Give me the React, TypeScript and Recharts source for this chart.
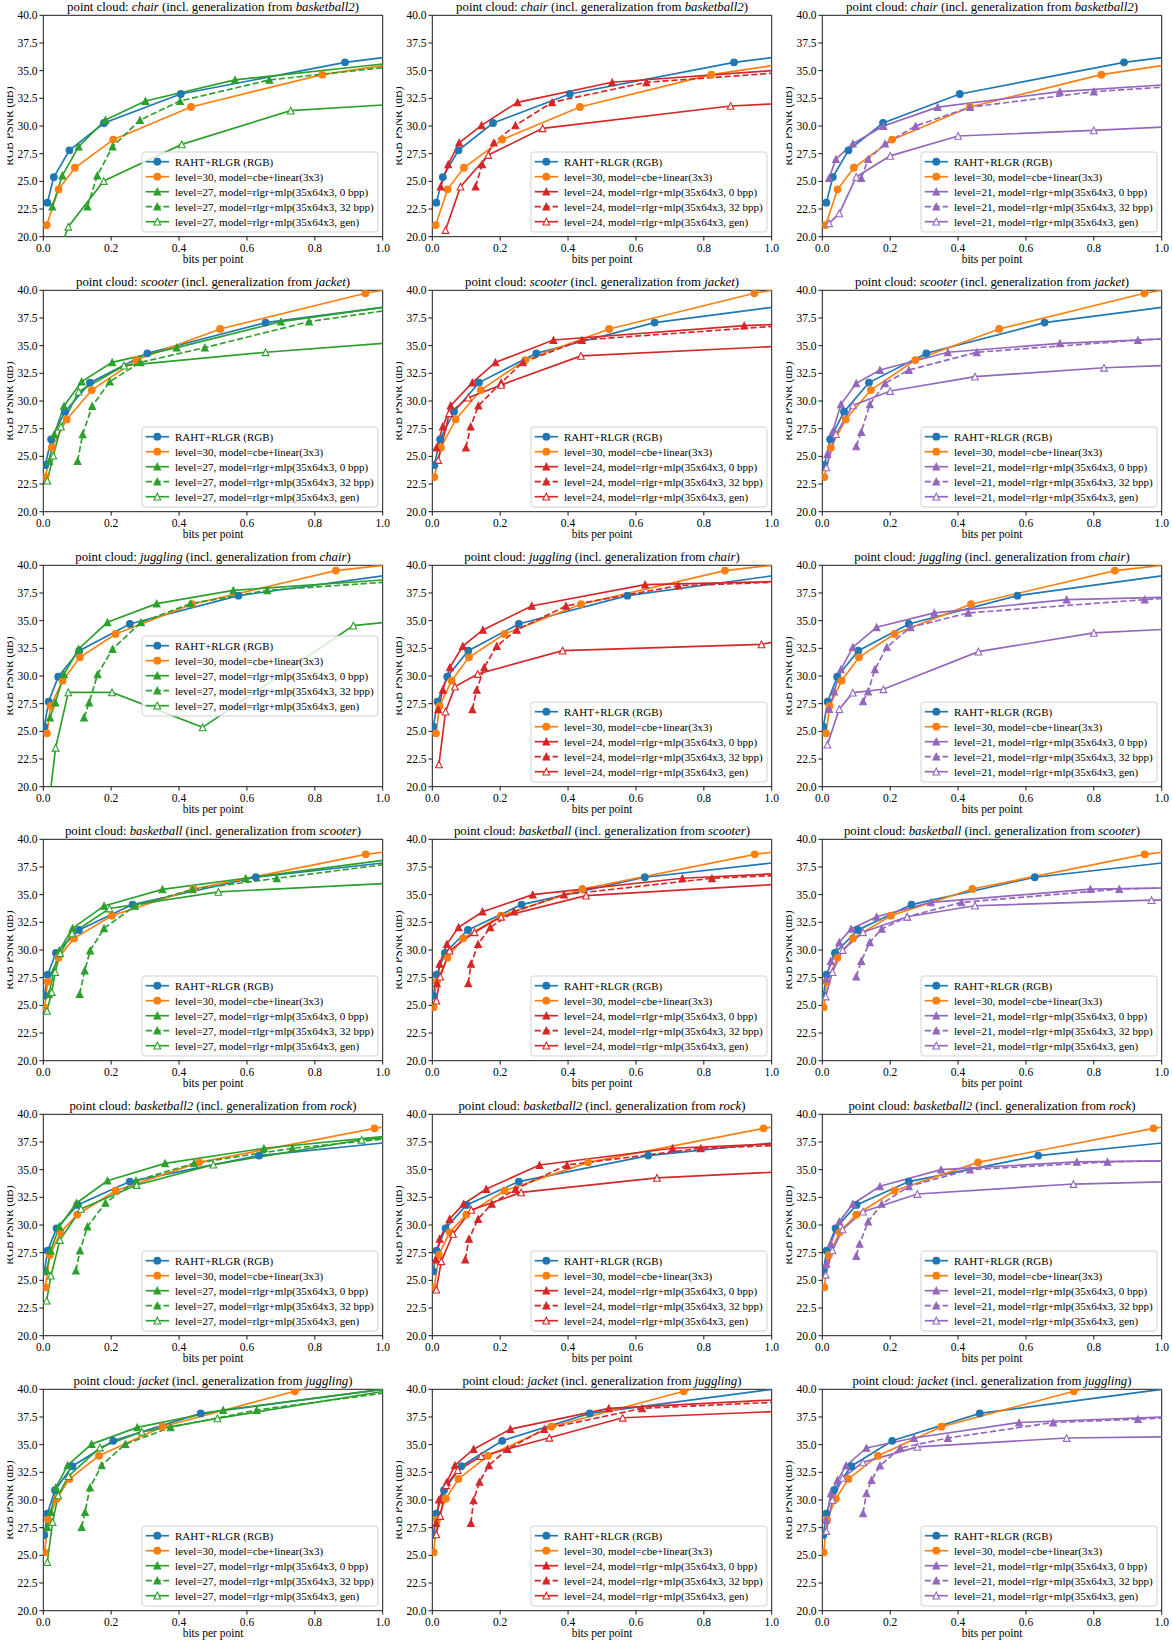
import React from 'react';
import { LineChart, Line, XAxis, YAxis, ReferenceArea } from 'recharts';

// ---------- data ([bits per point, RGB PSNR dB]) ----------
const chairRaht = [[0.012,23.07],[0.031,25.39],[0.077,27.8],[0.179,30.27],[0.405,32.89],[0.889,35.75],[1.0,36.17]];
const chairCbe = [[0.010,21.05],[0.045,24.28],[0.093,26.23],[0.206,28.77],[0.435,31.72],[0.822,34.64],[1.0,35.45]];
const chairL27_0 = [[0.0265,22.71],[0.056,25.51],[0.104,28.13],[0.183,30.54],[0.301,32.26],[0.565,34.16],[1.0,35.6]];
const chairL27_32 = [[0.13,22.71],[0.159,25.51],[0.204,28.13],[0.285,30.54],[0.403,32.26],[0.666,34.16],[1.0,35.27]];
const chairL27_gen = [[0.04,18.0],[0.0737,20.9],[0.178,25.03],[0.408,28.34],[0.729,31.39],[1.0,31.9]];
const chairL24_0 = [[0.0245,24.52],[0.047,26.54],[0.079,28.49],[0.145,30.06],[0.251,32.14],[0.53,33.95],[1.0,35.0]];
const chairL24_32 = [[0.1275,24.52],[0.147,26.54],[0.181,28.49],[0.245,30.06],[0.353,32.14],[0.631,33.95],[1.0,34.76]];
const chairL24_gen = [[0.039,20.6],[0.083,24.52],[0.165,27.38],[0.325,29.79],[0.879,31.81],[1.0,31.99]];
const chairL21_0 = [[0.02,25.3],[0.04,27.0],[0.09,28.4],[0.18,30.0],[0.34,31.7],[0.70,33.1],[1.0,33.7]];
const chairL21_32 = [[0.115,25.3],[0.135,27.0],[0.185,28.4],[0.275,30.0],[0.435,31.7],[0.80,33.1],[1.0,33.5]];
const chairL21_gen = [[0.02,21.2],[0.05,22.1],[0.1,25.4],[0.2,27.3],[0.4,29.1],[0.8,29.6],[1.0,29.9]];

const scooterRaht = [[0.006,24.22],[0.023,26.54],[0.064,29.04],[0.1375,31.66],[0.3065,34.31],[0.655,37.08],[1.0,38.46]];
const scooterCbe = [[0.006,23.13],[0.025,25.78],[0.069,28.34],[0.143,30.99],[0.274,33.7],[0.521,36.51],[0.949,39.73],[1.0,40.0]];
const scooterL27_0 = [[0.0177,24.58],[0.0324,26.99],[0.061,29.55],[0.113,31.75],[0.203,33.49],[0.393,34.82],[0.70,37.17],[1.0,38.46]];
const scooterL27_32 = [[0.101,24.58],[0.116,26.99],[0.144,29.55],[0.196,31.75],[0.286,33.49],[0.476,34.82],[0.783,37.17],[1.0,38.13]];
const scooterL27_gen = [[0.0118,22.8],[0.0295,25.06],[0.052,27.68],[0.104,30.84],[0.2377,33.19],[0.655,34.4],[1.0,35.21]];
const scooterL24_0 = [[0.012,25.78],[0.031,27.68],[0.054,29.58],[0.118,31.66],[0.186,33.49],[0.357,35.51],[0.919,36.81],[1.0,36.9]];
const scooterL24_32 = [[0.099,25.78],[0.113,27.68],[0.136,29.58],[0.203,31.66],[0.267,33.49],[0.441,35.51],[1.006,36.75]];
const scooterL24_gen = [[0.0176,24.67],[0.05,28.9],[0.106,30.3],[0.203,31.45],[0.438,34.07],[1.0,34.91]];
const scooterL21_0 = [[0.015,25.2],[0.03,27.2],[0.055,29.7],[0.1,31.6],[0.17,32.8],[0.37,34.4],[0.7,35.2],[1.0,35.6]];
const scooterL21_32 = [[0.1,25.9],[0.115,27.2],[0.14,29.7],[0.185,31.6],[0.255,32.8],[0.455,34.4],[0.93,35.5],[1.0,35.6]];
const scooterL21_gen = [[0.012,24.0],[0.04,27.0],[0.09,29.6],[0.2,30.9],[0.45,32.2],[0.83,33.0],[1.0,33.2]];

const jugglingRaht = [[0.003,25.42],[0.0157,27.68],[0.044,29.94],[0.106,32.29],[0.255,34.7],[0.575,37.26],[1.0,39.04]];
const jugglingCbe = [[0.0108,24.82],[0.0216,27.29],[0.057,29.58],[0.108,31.69],[0.213,33.8],[0.438,36.48],[0.862,39.52],[1.0,40.0]];
const jugglingL27_0 = [[0.0196,26.24],[0.0354,27.59],[0.061,30.15],[0.104,32.44],[0.189,34.85],[0.334,36.54],[0.56,37.74],[1.0,38.67]];
const jugglingL27_32 = [[0.12,26.24],[0.135,27.59],[0.16,30.15],[0.204,32.44],[0.288,34.85],[0.434,36.54],[0.66,37.74],[1.0,38.46]];
const jugglingL27_gen = [[0.015,18.0],[0.0363,23.52],[0.0737,28.52],[0.2024,28.52],[0.4695,25.36],[0.9136,34.55],[1.0,34.82]];
const jugglingL24_0 = [[0.0176,26.99],[0.031,28.74],[0.052,30.78],[0.09,32.71],[0.149,34.16],[0.293,36.33],[0.627,38.25],[1.0,38.52]];
const jugglingL24_32 = [[0.118,26.99],[0.131,28.74],[0.153,30.78],[0.19,32.71],[0.249,34.16],[0.394,36.33],[0.725,38.16],[1.0,38.46]];
const jugglingL24_gen = [[0.0196,22.02],[0.039,26.78],[0.0667,29.04],[0.134,30.18],[0.384,32.29],[0.97,32.86],[1.0,33.04]];
const jugglingL21_0 = [[0.02,27.0],[0.035,28.6],[0.055,30.6],[0.09,32.6],[0.16,34.4],[0.33,35.7],[0.72,36.9],[1.0,37.1]];
const jugglingL21_32 = [[0.12,27.7],[0.135,28.6],[0.155,30.6],[0.19,32.6],[0.26,34.4],[0.43,35.7],[0.95,36.9],[1.0,37.0]];
const jugglingL21_gen = [[0.015,23.8],[0.05,27.0],[0.09,28.5],[0.18,28.8],[0.46,32.2],[0.8,33.9],[1.0,34.2]];

const basketballRaht = [[0.003,25.87],[0.0128,27.77],[0.0373,29.73],[0.105,31.81],[0.263,34.1],[0.626,36.57],[1.0,37.86]];
const basketballCbe = [[0.004,24.82],[0.0128,27.14],[0.045,29.31],[0.09,31.05],[0.202,33.1],[0.442,35.51],[0.95,38.64],[1.0,38.83]];
const basketballL27_0 = [[0.0167,26.02],[0.031,28.13],[0.047,29.94],[0.086,31.96],[0.179,33.98],[0.351,35.48],[0.596,36.48],[1.0,38.1]];
const basketballL27_32 = [[0.107,26.02],[0.122,28.13],[0.138,29.94],[0.179,31.96],[0.27,33.98],[0.44,35.48],[0.688,36.48],[1.0,37.7]];
const basketballL27_gen = [[0.011,24.5],[0.025,26.2],[0.035,28.0],[0.05,29.7],[0.085,31.5],[0.195,33.75],[0.516,35.25],[1.0,36.0]];
const basketballL24_0 = [[0.0137,26.99],[0.0216,28.74],[0.043,30.54],[0.0775,32.05],[0.148,33.46],[0.296,35.0],[0.737,36.48],[1.0,36.87]];
const basketballL24_32 = [[0.106,26.99],[0.114,28.74],[0.135,30.54],[0.171,32.05],[0.241,33.46],[0.388,35.0],[0.824,36.48],[1.0,36.72]];
const basketballL24_gen = [[0.012,25.42],[0.0235,27.59],[0.051,29.94],[0.1245,31.6],[0.203,33.0],[0.453,34.91],[1.0,35.9]];
const basketballL21_0 = [[0.012,27.4],[0.025,29.0],[0.05,30.7],[0.085,31.9],[0.16,33.0],[0.32,34.3],[0.79,35.5],[1.0,35.6]];
const basketballL21_32 = [[0.1,27.6],[0.115,29.0],[0.14,30.7],[0.175,31.9],[0.25,33.0],[0.41,34.3],[0.875,35.5],[1.0,35.6]];
const basketballL21_gen = [[0.01,25.8],[0.03,28.0],[0.06,30.0],[0.12,31.6],[0.25,33.0],[0.45,34.0],[0.97,34.5],[1.0,34.5]];

const basketball2Raht = [[0.003,25.81],[0.0128,27.68],[0.039,29.7],[0.101,31.81],[0.255,33.92],[0.636,36.27],[1.0,37.41]];
const basketball2Cbe = [[0.006,24.37],[0.0196,27.29],[0.051,29.34],[0.1,30.93],[0.213,33.1],[0.459,35.66],[0.976,38.73],[1.0,38.83]];
const basketball2L27_0 = [[0.0098,25.87],[0.0216,27.68],[0.047,29.85],[0.098,31.99],[0.189,34.0],[0.359,35.57],[0.65,36.93],[1.0,37.98]];
const basketball2L27_32 = [[0.096,25.87],[0.108,27.68],[0.13,29.85],[0.183,31.99],[0.273,34.0],[0.444,35.57],[0.734,36.93],[1.0,37.75]];
const basketball2L27_gen = [[0.0098,23.16],[0.0226,25.42],[0.049,28.64],[0.111,31.45],[0.275,33.61],[0.501,35.45],[0.938,37.7],[1.0,37.85]];
const basketball2L24_0 = [[0.0098,26.87],[0.0216,28.74],[0.051,30.54],[0.092,31.9],[0.159,33.25],[0.316,35.42],[0.708,36.93],[1.0,37.32]];
const basketball2L24_32 = [[0.097,26.87],[0.108,28.74],[0.135,30.54],[0.175,31.9],[0.245,33.25],[0.397,35.42],[0.791,36.93],[1.0,37.17]];
const basketball2L24_gen = [[0.0118,24.16],[0.0265,26.72],[0.061,29.19],[0.115,31.36],[0.262,32.95],[0.662,34.25],[1.0,34.76]];
const basketball2L21_0 = [[0.012,26.5],[0.025,28.3],[0.05,30.3],[0.09,31.9],[0.17,33.5],[0.35,35.0],[0.75,35.7],[1.0,35.8]];
const basketball2L21_32 = [[0.1,27.2],[0.11,28.3],[0.135,30.3],[0.175,31.9],[0.255,33.5],[0.435,35.0],[0.84,35.7],[1.0,35.8]];
const basketball2L21_gen = [[0.01,25.5],[0.03,27.7],[0.06,29.6],[0.12,31.2],[0.28,32.8],[0.74,33.7],[1.0,33.9]];

const jacketRaht = [[0.003,26.83],[0.0118,28.76],[0.0344,30.88],[0.0855,33.05],[0.206,35.35],[0.464,37.82],[1.0,40.0]];
const jacketCbe = [[0.004,25.26],[0.0138,28.22],[0.04,30.12],[0.077,31.9],[0.164,33.99],[0.351,36.62],[0.741,39.82],[1.0,41.9]];
const jacketL27_0 = [[0.0118,27.55],[0.023,28.91],[0.037,31.12],[0.0717,33.14],[0.1424,35.05],[0.277,36.56],[0.53,38.13],[1.0,40.0]];
const jacketL27_32 = [[0.113,27.55],[0.123,28.91],[0.1375,31.12],[0.172,33.14],[0.242,35.05],[0.375,36.56],[0.629,38.13],[1.0,39.64]];
const jacketL27_gen = [[0.0118,24.38],[0.0275,28.0],[0.044,30.42],[0.074,32.15],[0.167,34.74],[0.29,36.16],[0.513,37.37],[1.0,39.8]];
const jacketL24_0 = [[0.0118,27.92],[0.0196,30.03],[0.043,31.63],[0.0667,33.14],[0.1216,34.59],[0.23,36.4],[0.52,38.28],[1.0,39.03]];
const jacketL24_32 = [[0.1137,27.92],[0.1216,29.97],[0.139,31.63],[0.1667,33.14],[0.2216,34.59],[0.33,36.4],[0.618,38.28],[1.0,38.82]];
const jacketL24_gen = [[0.0118,26.89],[0.0235,28.55],[0.041,31.33],[0.075,32.69],[0.144,33.96],[0.345,35.62],[0.561,37.43],[1.0,37.98]];
const jacketL21_0 = [[0.012,28.2],[0.025,30.6],[0.045,31.8],[0.07,33.1],[0.13,34.7],[0.27,35.6],[0.58,37.0],[1.0,37.5]];
const jacketL21_32 = [[0.12,28.8],[0.13,30.6],[0.145,31.8],[0.17,33.1],[0.23,34.7],[0.37,35.6],[0.68,37.0],[0.93,37.3],[1.0,37.4]];
const jacketL21_gen = [[0.012,27.2],[0.03,30.0],[0.06,32.0],[0.12,33.4],[0.28,34.8],[0.72,35.6],[1.0,35.7]];

const xTicks = [0, 0.2, 0.4, 0.6, 0.8, 1.0];
const yTicks = [20, 22.5, 25, 27.5, 30, 32.5, 35, 37.5, 40];
const levels = [27, 24, 21];

// ---------- style ----------
const BLUE = '#1f77b4';
const ORANGE = '#ff7f0e';
const colColors = ['#2ca02c', '#d62728', '#9467bd'];
const FONT = '"Liberation Serif", "DejaVu Serif", serif';
const DASH = '6.2 2.7';

const W = 398;
const H = 275;
const PL = 43.3;
const PT = 15.3;
const PW = 339.4;
const PH = 221.4;
const COLSTEP = 389.4;
const ROWSTEP = 274.8;

type Kind = 'circle' | 'tri' | 'hollow';

function Marker({ kind, color, cx, cy }: { kind: Kind; color: string; cx: number; cy: number }) {
  if (kind === 'circle') {
    return <circle cx={cx} cy={cy} r={3.35} fill={color} stroke={color} strokeWidth={1.1} />;
  }
  const s = 3.35;
  const d = `M${cx},${cy - s} L${cx + s},${cy + s} L${cx - s},${cy + s} Z`;
  return <path d={d} fill={kind === 'hollow' ? '#ffffff' : color} stroke={color} strokeWidth={1.1} />;
}

function makeDot(kind: Kind, color: string) {
  return (props: any) => {
    const { cx, cy, payload, index } = props;
    const k = `dot-${index}`;
    if (cx == null || cy == null || !payload || payload.x >= 1 || payload.y < 20 || payload.y > 40) {
      return <g key={k} />;
    }
    return <Marker key={k} kind={kind} color={color} cx={cx} cy={cy} />;
  };
}

const toPts = (a: number[][]) => a.map(([x, y]) => ({ x, y }));

type PanelProps = {
  id: string;
  left: number;
  top: number;
  cloud: string;
  from: string;
  raht: number[][];
  cbe: number[][];
  s0: number[][];
  s32: number[][];
  sg: number[][];
  level: number;
  color: string;
  legendCenter: boolean;
};

function Panel(p: PanelProps) {
  const series = [
    { data: p.raht, color: BLUE, kind: 'circle' as Kind, dash: undefined as string | undefined, name: 'RAHT+RLGR (RGB)' },
    { data: p.cbe, color: ORANGE, kind: 'circle' as Kind, dash: undefined, name: 'level=30, model=cbe+linear(3x3)' },
    { data: p.s0, color: p.color, kind: 'tri' as Kind, dash: undefined, name: `level=${p.level}, model=rlgr+mlp(35x64x3, 0 bpp)` },
    { data: p.s32, color: p.color, kind: 'tri' as Kind, dash: DASH, name: `level=${p.level}, model=rlgr+mlp(35x64x3, 32 bpp)` },
    { data: p.sg, color: p.color, kind: 'hollow' as Kind, dash: undefined, name: `level=${p.level}, model=rlgr+mlp(35x64x3, gen)` },
  ];
  const boxW = 236;
  const boxH = 80;
  const boxL = PL + PW - 4.7 - boxW;
  const boxT = p.legendCenter ? PT + (PH - boxH) / 2 : PT + PH - 4.7 - boxH;
  const tickStyle = { fill: '#000', fontSize: 11.5, fontFamily: FONT };
  return (
    <div style={{ position: 'absolute', left: p.left, top: p.top, width: W, height: H }}>
      <LineChart width={W} height={H} margin={{ top: PT, right: W - PL - PW, bottom: 0, left: 0 }}>
        <XAxis
          type="number"
          dataKey="x"
          domain={[0, 1]}
          allowDataOverflow
          ticks={xTicks}
          interval={0}
          tickFormatter={(v: number) => v.toFixed(1)}
          height={H - PT - PH}
          tickSize={3.9}
          tickMargin={3.2}
          axisLine={false}
          tickLine={{ stroke: '#000', strokeWidth: 0.9 }}
          tick={tickStyle}
        />
        <YAxis
          type="number"
          dataKey="y"
          domain={[20, 40]}
          allowDataOverflow
          ticks={yTicks}
          interval={0}
          tickFormatter={(v: number) => v.toFixed(1)}
          width={PL}
          tickSize={3.9}
          tickMargin={1.8}
          axisLine={false}
          tickLine={{ stroke: '#000', strokeWidth: 0.9 }}
          tick={tickStyle}
        />
        {series.map((s, i) => (
          <Line
            key={i}
            data={toPts(s.data)}
            dataKey="y"
            type="linear"
            stroke={s.color}
            strokeWidth={1.67}
            strokeDasharray={s.dash}
            dot={makeDot(s.kind, s.color)}
            activeDot={false}
            isAnimationActive={false}
          />
        ))}
        <ReferenceArea x1={0} x2={1} y1={20} y2={40} fill="none" fillOpacity={0} stroke="#000" strokeWidth={0.9} strokeOpacity={1} ifOverflow="visible" />
      </LineChart>
      <svg
        width={W}
        height={H}
        style={{ position: 'absolute', left: 0, top: 0, pointerEvents: 'none', overflow: 'visible' }}
        fontFamily={FONT}
      >
        <defs>
          <clipPath id={`yl-${p.id}`}>
            <rect x={7.3} y={0} width={20} height={H} />
          </clipPath>
        </defs>
        <text x={PL + PW / 2} y={PT - 4} textAnchor="middle" fontSize={12.8} fill="#000">
          point cloud: <tspan fontStyle="italic">{p.cloud}</tspan> (incl. generalization from{' '}
          <tspan fontStyle="italic">{p.from}</tspan>)
        </text>
        <text x={PL + PW / 2} y={PT + PH + 26} textAnchor="middle" fontSize={11.5} fill="#000">
          bits per point
        </text>
        <g clipPath={`url(#yl-${p.id})`}>
          <text transform={`translate(13.4, ${PT + PH / 2}) rotate(-90)`} textAnchor="middle" fontSize={11.5} fill="#000">
            RGB PSNR (dB)
          </text>
        </g>
        <rect x={boxL} y={boxT} width={boxW} height={boxH} rx={3} ry={3} fill="#ffffff" fillOpacity={0.8} stroke="#cccccc" strokeWidth={0.9} />
        {series.map((s, i) => {
          const cy = boxT + 9.7 + i * 15;
          return (
            <g key={i}>
              <line x1={boxL + 3.7} x2={boxL + 27} y1={cy} y2={cy} stroke={s.color} strokeWidth={1.67} strokeDasharray={s.dash} />
              <Marker kind={s.kind} color={s.color} cx={boxL + 15.3} cy={cy} />
              <text x={boxL + 33} y={cy} dy="0.35em" fontSize={11} fill="#000">
                {s.name}
              </text>
            </g>
          );
        })}
      </svg>
    </div>
  );
}

const rows = [
  { cloud: 'chair', from: 'basketball2', raht: chairRaht, cbe: chairCbe, cols: [[chairL27_0, chairL27_32, chairL27_gen], [chairL24_0, chairL24_32, chairL24_gen], [chairL21_0, chairL21_32, chairL21_gen]], center: [false, false, false] },
  { cloud: 'scooter', from: 'jacket', raht: scooterRaht, cbe: scooterCbe, cols: [[scooterL27_0, scooterL27_32, scooterL27_gen], [scooterL24_0, scooterL24_32, scooterL24_gen], [scooterL21_0, scooterL21_32, scooterL21_gen]], center: [false, false, false] },
  { cloud: 'juggling', from: 'chair', raht: jugglingRaht, cbe: jugglingCbe, cols: [[jugglingL27_0, jugglingL27_32, jugglingL27_gen], [jugglingL24_0, jugglingL24_32, jugglingL24_gen], [jugglingL21_0, jugglingL21_32, jugglingL21_gen]], center: [true, false, false] },
  { cloud: 'basketball', from: 'scooter', raht: basketballRaht, cbe: basketballCbe, cols: [[basketballL27_0, basketballL27_32, basketballL27_gen], [basketballL24_0, basketballL24_32, basketballL24_gen], [basketballL21_0, basketballL21_32, basketballL21_gen]], center: [false, false, false] },
  { cloud: 'basketball2', from: 'rock', raht: basketball2Raht, cbe: basketball2Cbe, cols: [[basketball2L27_0, basketball2L27_32, basketball2L27_gen], [basketball2L24_0, basketball2L24_32, basketball2L24_gen], [basketball2L21_0, basketball2L21_32, basketball2L21_gen]], center: [false, false, false] },
  { cloud: 'jacket', from: 'juggling', raht: jacketRaht, cbe: jacketCbe, cols: [[jacketL27_0, jacketL27_32, jacketL27_gen], [jacketL24_0, jacketL24_32, jacketL24_gen], [jacketL21_0, jacketL21_32, jacketL21_gen]], center: [false, false, false] },
];

export default function App() {
  return (
    <div style={{ position: 'absolute', left: 0, top: 0, width: 1172, height: 1644, background: '#ffffff', overflow: 'hidden' }}>
      {rows.map((r, ri) =>
        r.cols.map((c, ci) => (
          <Panel
            key={`${ri}-${ci}`}
            id={`${ri}-${ci}`}
            left={ci * COLSTEP}
            top={ri * ROWSTEP}
            cloud={r.cloud}
            from={r.from}
            raht={r.raht}
            cbe={r.cbe}
            s0={c[0]}
            s32={c[1]}
            sg={c[2]}
            level={levels[ci]}
            color={colColors[ci]}
            legendCenter={r.center[ci]}
          />
        ))
      )}
    </div>
  );
}
